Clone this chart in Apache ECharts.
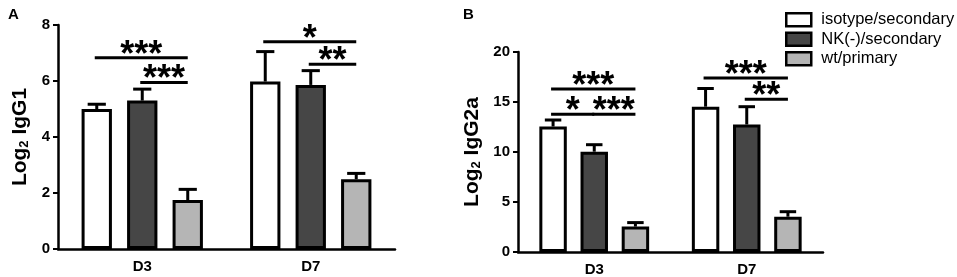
<!DOCTYPE html>
<html>
<head>
<meta charset="utf-8">
<script src="https://cdn.jsdelivr.net/npm/echarts@6/dist/echarts.min.js"></script>
<style>
html, body { margin: 0; padding: 0; background: #fff; }
#chart { width: 957px; height: 277px; }
</style>
</head>
<body>
<div id="chart"></div>
<script>
var days = ['D3', 'D7'];
var groups = ['isotype/secondary', 'NK(-)/secondary', 'wt/primary'];
var colors = ['#ffffff', '#464646', '#b5b5b5'];

// panel A: log2 IgG1, mean per group, [D3, D7]
var igg1Mean = [[5.0, 5.98], [5.3, 5.86], [1.75, 2.49]];
var igg1Sem = [[0.17, 1.07], [0.41, 0.51], [0.38, 0.21]];
// panel B: log2 IgG2a
var igg2aMean = [[12.55, 14.53], [10.03, 12.75], [2.54, 3.53]];
var igg2aSem = [[0.65, 1.82], [0.7, 1.78], [0.4, 0.5]];

// significance brackets: [day, fromGroup, toGroup, y]
var sigA = [[0, 0, 2, 6.83], [0, 1, 2, 5.95], [1, 0, 2, 7.4], [1, 1, 2, 6.6]];
var sigAText = ['***', '***', '*', '**'];
var sigB = [[0, 0, 2, 16.3], [0, 0, 1, 13.78], [0, 1, 2, 13.78], [1, 0, 2, 17.4], [1, 1, 2, 15.27]];
var sigBText = ['***', '*', '***', '***', '**'];

var OFF = 0.27;   // bar centre offset as share of category width
var font = 'Liberation Sans, Arial, sans-serif';

function errData(mean, sem) {
	var out = [];
	for (var g = 0; g < mean.length; g++) {
		for (var d = 0; d < mean[g].length; d++) {
			out.push([d, g, mean[g][d], sem[g][d]]);
		}
	}
	return out;
}

function renderErr(params, api) {
	var bw = api.size([1, 0])[0];
	var cx = api.coord([api.value(0), 0])[0] + (api.value(1) - 1) * bw * OFF;
	var y0 = api.coord([api.value(0), api.value(2)])[1];
	var y1 = api.coord([api.value(0), api.value(2) + api.value(3)])[1];
	var half = bw * 0.054;
	var st = { stroke: '#000', lineWidth: 3 };
	return {
		type: 'group',
		children: [
			{ type: 'line', shape: { x1: cx, y1: y0, x2: cx, y2: y1 }, style: st },
			{ type: 'line', shape: { x1: cx - half, y1: y1, x2: cx + half, y2: y1 }, style: st }
		]
	};
}

function sigRenderer(texts) {
	return function(params, api) {
		var bw = api.size([1, 0])[0];
		var c = api.coord([api.value(0), api.value(3)]);
		var x1 = c[0] + (api.value(1) - 1) * bw * OFF - 2;
		var x2 = c[0] + (api.value(2) - 1) * bw * OFF;
		return {
			type: 'group',
			children: [
				{ type: 'line', shape: { x1: x1, y1: c[1], x2: x2, y2: c[1] }, style: { stroke: '#000', lineWidth: 3 } },
				{ type: 'text', x: (x1 + x2) / 2, y: c[1] + 16, style: {
					text: texts[params.dataIndex], fill: '#000', font: 'bold 36px ' + font,
					align: 'center', verticalAlign: 'bottom' } }
			]
		};
	};
}

function barSeries(mean, axis) {
	return mean.map(function(vals, g) {
		return {
			type: 'bar', name: groups[g], data: vals,
			xAxisIndex: axis, yAxisIndex: axis,
			barWidth: '18%', barGap: '50%',
			itemStyle: { color: colors[g], borderColor: '#000', borderWidth: 3 }
		};
	});
}

function xAxis(grid) {
	return {
		type: 'category', data: days, gridIndex: grid,
		axisLine: { lineStyle: { color: '#000', width: 2.5 } },
		axisTick: { alignWithLabel: true, length: 6, lineStyle: { color: '#000', width: 2 } },
		axisLabel: { color: '#000', fontWeight: 'bold', fontSize: 15, fontFamily: font, margin: 10 }
	};
}

function yAxis(grid, max, step, sub, gap) {
	return {
		type: 'value', gridIndex: grid, min: 0, max: max, interval: step,
		name: '{a|Log}{s|2}{a| ' + sub + '}', nameLocation: 'middle', nameGap: gap,
		nameTextStyle: {
			rich: {
				a: { fontSize: 21, fontWeight: 'bold', fontFamily: font, color: '#000' },
				s: { fontSize: 13, fontWeight: 'bold', fontFamily: font, color: '#000', padding: [9, 0, 0, 0] }
			}
		},
		splitLine: { show: false },
		axisLine: { show: true, lineStyle: { color: '#000', width: 2.5 } },
		axisTick: { show: true, length: 5, lineStyle: { color: '#000', width: 2 } },
		axisLabel: { color: '#000', fontWeight: 'bold', fontSize: 15, fontFamily: font, margin: 8 }
	};
}

var chart = echarts.init(document.getElementById('chart'), null, { renderer: 'canvas' });
chart.setOption({
	animation: false,
	backgroundColor: '#fff',
	graphic: [
		{ type: 'text', left: 8, top: 7, style: { text: 'A', font: 'bold 15px ' + font, fill: '#000' } },
		{ type: 'text', left: 463, top: 7, style: { text: 'B', font: 'bold 15px ' + font, fill: '#000' } }
	],
	legend: {
		data: groups, orient: 'vertical', left: 785, top: 10, padding: 0,
		itemWidth: 25, itemHeight: 13, itemGap: 0, icon: 'rect',
		itemStyle: { borderColor: '#000', borderWidth: 2.5 },
		textStyle: { color: '#000', fontSize: 16.5, lineHeight: 19.5, fontFamily: font, padding: [0, 0, 0, 5] }
	},
	grid: [
		{ left: 58, top: 25, width: 337, height: 224 },
		{ left: 518, top: 52, width: 305, height: 202 }
	],
	xAxis: [xAxis(0), xAxis(1)],
	yAxis: [yAxis(0, 8, 2, 'IgG1', 27), yAxis(1, 20, 5, 'IgG2a', 35)],
	series: barSeries(igg1Mean, 0).concat(barSeries(igg2aMean, 1)).concat([
		{ type: 'custom', name: 'errA', xAxisIndex: 0, yAxisIndex: 0, renderItem: renderErr, data: errData(igg1Mean, igg1Sem), z: 3 },
		{ type: 'custom', name: 'errB', xAxisIndex: 1, yAxisIndex: 1, renderItem: renderErr, data: errData(igg2aMean, igg2aSem), z: 3 },
		{ type: 'custom', name: 'sigA', xAxisIndex: 0, yAxisIndex: 0, renderItem: sigRenderer(sigAText), data: sigA, z: 3 },
		{ type: 'custom', name: 'sigB', xAxisIndex: 1, yAxisIndex: 1, renderItem: sigRenderer(sigBText), data: sigB, z: 3 }
	])
});
</script>
</body>
</html>
